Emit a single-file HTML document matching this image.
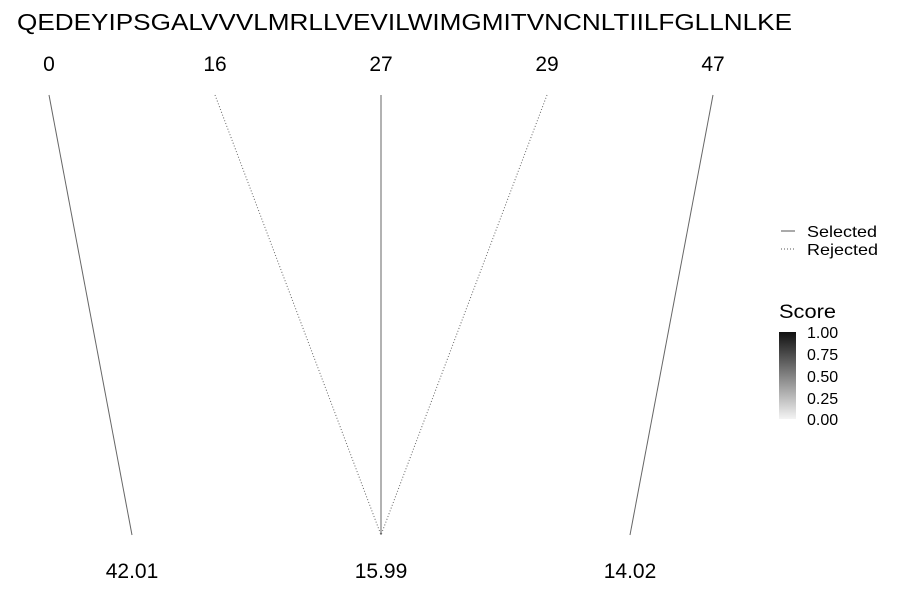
<!DOCTYPE html>
<html><head><meta charset="utf-8"><style>
body{margin:0;background:#fff}
svg{display:block;font-family:"Liberation Sans",sans-serif}
</style></head><body>
<svg id="c" width="900" height="600">
<defs><linearGradient id="g" x1="0" y1="1" x2="0" y2="0"><stop offset="0" stop-color="#f4f4f4"/><stop offset="1" stop-color="#111"/></linearGradient></defs>
<text x="17" y="30" font-size="23.5" textLength="775" lengthAdjust="spacingAndGlyphs" fill="#000">QEDEYIPSGALVVVLMRLLVEVILWIMGMITVNCNLTIILFGLLNLKE</text>
<g id="links"></g>
<g id="labels"></g>
<g>
<line x1="781" y1="231" x2="795" y2="231" stroke="#555" stroke-width="1"/>
<text x="807" y="237" font-size="16" textLength="70" lengthAdjust="spacingAndGlyphs">Selected</text>
<line x1="781" y1="249" x2="795" y2="249" stroke="#555" stroke-width="1" stroke-dasharray="1,2"/>
<text x="807" y="255" font-size="16" textLength="71" lengthAdjust="spacingAndGlyphs">Rejected</text>
</g>
<g>
<text x="779" y="318" font-size="19" textLength="57" lengthAdjust="spacingAndGlyphs">Score</text>
<rect x="779" y="332" width="17" height="87" fill="url(#g)"/>
<g font-size="16">
<text x="807" y="338">1.00</text><text x="807" y="360">0.75</text><text x="807" y="382">0.50</text><text x="807" y="404">0.25</text><text x="807" y="425">0.00</text>
</g></g>
</svg>
<script>
const topPositions=[0,16,27,29,47];
const bottomScores=["42.01","15.99","14.02"];
const linkTargets=[0,1,1,1,2];
const linkSelected=[true,false,true,false,true];
const NS="http://www.w3.org/2000/svg";
const topX=i=>49+i*166, botX=j=>381+(j-(bottomScores.length-1)/2)*249;
const L=document.getElementById('links'),T=document.getElementById('labels');
function mk(tag,a,p){const e=document.createElementNS(NS,tag);for(const k in a)e.setAttribute(k,a[k]);p.appendChild(e);return e;}
topPositions.forEach((v,i)=>{
 const t=mk('text',{x:topX(i),y:71,'font-size':21,'text-anchor':'middle'},T);t.textContent=v;
 
 
 const l=mk('line',{x1:topX(i),y1:95,x2:botX(linkTargets[i]),y2:535,stroke:'#666','stroke-width':1},L);
 if(!linkSelected[i])l.setAttribute('stroke-dasharray','1,2');
 
 
});
bottomScores.forEach((v,j)=>{
 const t=mk('text',{x:botX(j),y:578,'font-size':21,'text-anchor':'middle'},T);t.textContent=v;
 
 
});
</script>
</body></html>
